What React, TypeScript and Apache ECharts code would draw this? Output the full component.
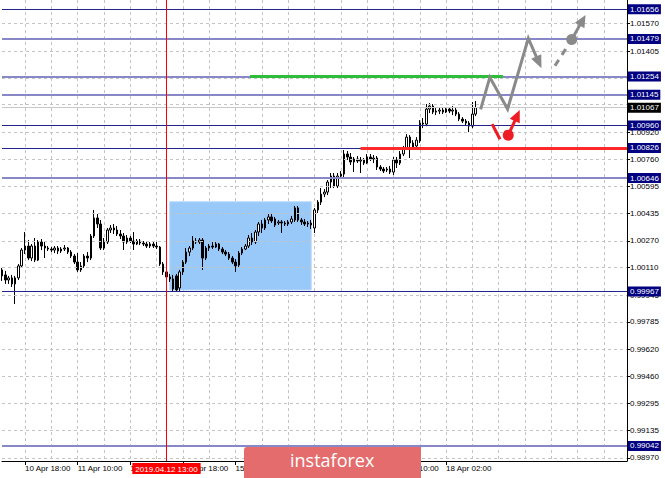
import React, { useEffect, useRef } from "react";
import * as echarts from "echarts";

// ---------- time axis (hourly bars, MT4 style) ----------
const dayHours = [
  { date: "2019.04.10", first: 11, last: 23 },
  { date: "2019.04.11", first: 0, last: 23 },
  { date: "2019.04.12", first: 0, last: 23 },
  { date: "2019.04.15", first: 0, last: 23 },
  { date: "2019.04.16", first: 0, last: 23 },
  { date: "2019.04.17", first: 0, last: 23 },
  { date: "2019.04.18", first: 0, last: 23 },
  { date: "2019.04.19", first: 0, last: 23 },
  { date: "2019.04.20", first: 0, last: 9 },
];
const monthNames = ["Jan", "Feb", "Mar", "Apr", "May", "Jun", "Jul", "Aug", "Sep", "Oct", "Nov", "Dec"];

const categories: string[] = [];
dayHours.forEach((d) => {
  for (let h = d.first; h <= d.last; h++) categories.push(`${d.date} ${String(h).padStart(2, "0")}:00`);
});

// ---------- candles: [open, close, low, high] ----------
const candles: number[][] = [
  [1.00096, 1.0006, 1.0003, 1.00108],
  [1.00066, 1.00036, 1.00012, 1.0009],
  [1.00036, 1.00048, 1.00012, 1.0006],
  [1.00048, 1.00012, 0.99994, 1.00066],
  [1.00012, 1.00048, 0.99892, 1.0006],
  [1.00048, 1.0012, 1.00036, 1.00131],
  [1.0012, 1.00215, 1.00108, 1.00227],
  [1.00215, 1.00239, 1.00191, 1.00323],
  [1.00239, 1.00167, 1.00155, 1.00275],
  [1.00167, 1.00239, 1.00149, 1.00251],
  [1.00239, 1.00155, 1.00143, 1.00287],
  [1.00155, 1.00263, 1.00149, 1.00275],
  [1.00263, 1.00239, 1.00215, 1.00281],
  [1.00239, 1.00227, 1.00167, 1.00263],
  [1.00227, 1.00221, 1.00209, 1.00239],
  [1.00221, 1.00215, 1.00203, 1.00233],
  [1.00215, 1.00227, 1.00197, 1.00239],
  [1.00227, 1.00209, 1.00191, 1.00239],
  [1.00209, 1.00221, 1.00197, 1.00233],
  [1.00221, 1.00227, 1.00209, 1.00245],
  [1.00227, 1.00203, 1.00191, 1.00233],
  [1.00203, 1.00179, 1.00167, 1.00215],
  [1.00179, 1.00143, 1.00131, 1.00191],
  [1.00143, 1.00096, 1.00084, 1.00197],
  [1.00096, 1.0012, 1.00084, 1.00143],
  [1.0012, 1.00179, 1.00108, 1.00191],
  [1.00179, 1.00167, 1.00143, 1.00203],
  [1.00167, 1.00299, 1.00155, 1.00311],
  [1.00299, 1.00407, 1.00287, 1.00455],
  [1.00407, 1.00371, 1.00347, 1.00431],
  [1.00371, 1.00227, 1.00215, 1.00395],
  [1.00227, 1.00263, 1.00215, 1.00287],
  [1.00263, 1.00335, 1.00251, 1.00347],
  [1.00335, 1.00347, 1.00317, 1.00365],
  [1.00347, 1.00335, 1.00311, 1.00371],
  [1.00335, 1.00311, 1.00299, 1.00359],
  [1.00311, 1.00299, 1.00281, 1.00335],
  [1.00299, 1.00263, 1.00215, 1.00317],
  [1.00263, 1.00287, 1.00251, 1.00305],
  [1.00287, 1.00269, 1.00257, 1.00299],
  [1.00269, 1.00251, 1.00215, 1.00323],
  [1.00251, 1.00269, 1.00245, 1.00281],
  [1.00269, 1.00257, 1.00245, 1.00281],
  [1.00257, 1.00251, 1.00239, 1.00269],
  [1.00251, 1.00239, 1.00227, 1.00263],
  [1.00239, 1.00251, 1.00227, 1.00263],
  [1.00251, 1.00239, 1.00227, 1.00263],
  [1.00239, 1.00233, 1.00221, 1.00263],
  [1.00233, 1.00131, 1.0012, 1.00239],
  [1.00131, 1.00084, 1.00066, 1.00143],
  [1.00084, 1.00054, 1.00036, 1.00096],
  [1.00054, 1.00042, 1.00024, 1.00072],
  [1.00042, 0.99982, 0.99964, 1.00066],
  [1.0006, 0.99976, 0.99964, 1.00072],
  [0.99988, 1.00084, 0.99964, 1.00096],
  [1.00084, 1.00143, 1.00066, 1.00155],
  [1.00143, 1.00203, 1.00131, 1.00227],
  [1.00203, 1.00227, 1.00179, 1.00239],
  [1.00227, 1.00269, 1.00215, 1.00299],
  [1.00269, 1.00263, 1.00251, 1.00287],
  [1.00263, 1.00275, 1.00251, 1.00287],
  [1.00275, 1.00167, 1.00096, 1.00287],
  [1.00167, 1.00227, 1.00155, 1.00239],
  [1.00227, 1.00239, 1.00209, 1.00251],
  [1.00239, 1.00233, 1.00221, 1.00263],
  [1.00233, 1.00251, 1.00227, 1.00263],
  [1.00251, 1.00221, 1.00209, 1.00257],
  [1.00221, 1.00203, 1.00191, 1.00233],
  [1.00203, 1.00191, 1.00179, 1.00215],
  [1.00191, 1.00167, 1.00155, 1.00203],
  [1.00167, 1.00143, 1.00131, 1.00179],
  [1.00143, 1.0012, 1.00084, 1.00161],
  [1.00125, 1.00197, 1.00114, 1.00209],
  [1.00197, 1.00221, 1.00185, 1.00233],
  [1.00221, 1.00239, 1.00215, 1.00251],
  [1.00239, 1.00287, 1.00227, 1.00305],
  [1.00287, 1.00263, 1.00245, 1.00317],
  [1.00263, 1.00323, 1.00251, 1.00335],
  [1.00323, 1.00371, 1.00299, 1.00383],
  [1.00371, 1.00347, 1.00317, 1.00395],
  [1.00347, 1.00395, 1.00335, 1.00407],
  [1.00395, 1.00413, 1.00371, 1.00437],
  [1.00413, 1.00389, 1.00377, 1.00431],
  [1.00401, 1.00365, 1.00353, 1.00413],
  [1.00377, 1.00383, 1.00365, 1.00395],
  [1.00383, 1.00377, 1.00317, 1.00395],
  [1.00377, 1.00371, 1.00359, 1.00389],
  [1.00371, 1.00383, 1.00359, 1.00395],
  [1.00383, 1.00401, 1.00371, 1.00419],
  [1.00395, 1.00467, 1.00383, 1.00479],
  [1.00467, 1.00395, 1.00383, 1.00479],
  [1.00395, 1.00383, 1.00365, 1.00407],
  [1.00383, 1.00371, 1.00359, 1.00401],
  [1.00371, 1.00377, 1.00353, 1.00389],
  [1.00377, 1.00365, 1.00341, 1.00395],
  [1.00347, 1.00455, 1.00317, 1.00467],
  [1.00455, 1.00502, 1.00437, 1.00514],
  [1.00502, 1.0055, 1.00485, 1.00586],
  [1.0055, 1.00562, 1.00532, 1.0058],
  [1.00562, 1.00622, 1.00544, 1.00634],
  [1.00622, 1.00658, 1.00586, 1.00676],
  [1.00658, 1.00598, 1.00586, 1.00676],
  [1.00598, 1.00658, 1.00586, 1.00676],
  [1.00658, 1.0067, 1.00646, 1.00688],
  [1.0067, 1.0079, 1.00652, 1.00814],
  [1.0079, 1.00772, 1.00754, 1.00808],
  [1.00772, 1.00742, 1.00724, 1.00796],
  [1.00742, 1.0076, 1.00682, 1.00772],
  [1.0076, 1.00748, 1.00736, 1.00778],
  [1.00748, 1.00754, 1.00676, 1.00772],
  [1.00754, 1.00736, 1.00724, 1.00766],
  [1.00736, 1.00772, 1.0073, 1.0079],
  [1.00772, 1.0076, 1.00748, 1.0079],
  [1.0076, 1.00766, 1.00736, 1.00784],
  [1.00766, 1.00712, 1.00694, 1.00778],
  [1.00712, 1.007, 1.00688, 1.00724],
  [1.007, 1.00688, 1.00676, 1.00712],
  [1.00694, 1.007, 1.00682, 1.00712],
  [1.007, 1.00682, 1.0067, 1.00718],
  [1.00682, 1.00754, 1.00664, 1.00772],
  [1.00754, 1.00736, 1.00706, 1.00772],
  [1.00736, 1.0079, 1.00724, 1.00808],
  [1.0079, 1.00826, 1.00778, 1.00838],
  [1.00826, 1.00891, 1.00814, 1.00909],
  [1.00891, 1.00856, 1.00766, 1.00903],
  [1.00856, 1.00832, 1.0082, 1.00873],
  [1.00838, 1.00873, 1.00826, 1.00891],
  [1.00868, 1.00975, 1.00856, 1.00993],
  [1.00975, 1.00969, 1.00945, 1.01005],
  [1.00969, 1.01059, 1.00957, 1.01089],
  [1.01059, 1.01077, 1.01035, 1.01095],
  [1.01077, 1.01041, 1.01029, 1.01089],
  [1.01041, 1.01047, 1.01023, 1.01065],
  [1.01047, 1.01053, 1.01029, 1.01071],
  [1.01053, 1.01041, 1.01029, 1.01071],
  [1.01041, 1.01059, 1.01035, 1.01071],
  [1.01059, 1.01047, 1.01035, 1.01071],
  [1.01047, 1.01053, 1.01023, 1.01077],
  [1.01053, 1.01029, 1.01017, 1.01071],
  [1.01029, 1.00999, 1.00987, 1.01041],
  [1.00999, 1.00987, 1.00975, 1.01011],
  [1.00987, 1.00975, 1.00963, 1.00999],
  [1.00975, 1.00957, 1.00921, 1.00987],
  [1.00957, 1.01029, 1.00945, 1.01101],
  [1.01029, 1.01067, 1.01017, 1.01107],
];

// ---------- price scale ----------
const priceMin = 0.98952;
const priceMax = 1.01712;
const tickValues = [
  1.0157, 1.01405, 1.01245, 1.01085, 1.0092, 1.0076, 1.00595, 1.00435, 1.0027, 1.0011,
  0.99945, 0.99785, 0.9962, 0.9946, 0.99295, 0.99135, 0.9897,
];
const darkLevels = [1.01656, 1.0096, 1.00826, 0.99967];
const lightLevels = [1.01479, 1.01254, 1.01145, 1.00646, 0.99042];
const bidPrice = 1.01067;

// ---------- annotations (bar index, price) ----------
const markedBar = 50; // 2019.04.12 13:00
const zoneBars = [51, 94];
const zonePrices = [1.00504, 0.99976];
const greenLevel = { from: 75.4, to: 152.3, price: 1.01254 };
const redLevel = { from: 109, to: 190, price: 1.00826 };
const greyZigzag = [
  [145.5, 1.01057],
  [148.3, 1.01249],
  [153.7, 1.01059],
  [160.0, 1.01482],
  [164.0, 1.01303],
];
const greyDashed = [
  [168.1, 1.01318],
  [173.2, 1.01476],
];
const greyTip = [177.4, 1.01622];
const redSlash = [
  [149.0, 1.00969],
  [151.4, 1.00878],
];
const redDot = [153.9, 1.00903];
const redTip = [157.4, 1.01053];

// ---------- layout ----------
const GRID_LEFT = 2;
const GRID_RIGHT = 38;
const CHART_W = 665;
const BANNER = { x: 244, y: 447, w: 177, h: 31 };

const FONT = "Liberation Sans";
const GREY = "#8a8a8a";
const RED = "#ee1c25";

const barStep = (CHART_W - GRID_LEFT - GRID_RIGHT) / (categories.length - 1);
const LABEL_W = 46;
const hiddenByBanner = (i: number) => {
  const x = GRID_LEFT + i * barStep;
  return x >= BANNER.x && x + LABEL_W <= BANNER.x + BANNER.w;
};
const isTicked = (i: number) => i < candles.length && i >= 7 && (i - 7) % 16 === 0;
const isLabelled = (i: number) => isTicked(i) && !hiddenByBanner(i);
const isGrid = (i: number) => i >= 7 && (i - 7) % 8 === 0;
const fmtDate = (s: string) =>
  `${s.slice(8, 10)} ${monthNames[parseInt(s.slice(5, 7), 10) - 1]} ${s.slice(11)}`;

const allLevels = [...darkLevels, ...lightLevels, bidPrice];
const hiddenTick = (v: number) => allLevels.some((l) => Math.abs(l - v) < 0.0002);

function renderArrows(params: any, api: any) {
  const pt = (p: number[]) => api.coord(p) as number[];
  const children: any[] = [];
  const head = (a: number[], b: number[], color: string, len: number, half: number) => {
    const dx = b[0] - a[0];
    const dy = b[1] - a[1];
    const d = Math.hypot(dx, dy) || 1;
    const ux = dx / d;
    const uy = dy / d;
    const nx = -uy;
    const ny = ux;
    const bx = b[0] - ux * len;
    const by = b[1] - uy * len;
    children.push({
      type: "polygon",
      shape: { points: [[b[0], b[1]], [bx + nx * half, by + ny * half], [bx - nx * half, by - ny * half]] },
      style: { fill: color },
    });
    return [b[0] - ux * len * 0.8, b[1] - uy * len * 0.8];
  };
  const g = greyZigzag.map(pt);
  const gEnd = head(g[g.length - 2], g[g.length - 1], GREY, 13, 5.5);
  children.push({
    type: "polyline",
    shape: { points: [...g.slice(0, -1), gEnd] },
    style: { stroke: GREY, lineWidth: 3, fill: null },
  });
  const d0 = pt(greyDashed[0]);
  const d1 = pt(greyDashed[1]);
  children.push({
    type: "line",
    shape: { x1: d0[0], y1: d0[1], x2: d1[0], y2: d1[1] },
    style: { stroke: GREY, lineWidth: 3, lineDash: [7, 6] },
  });
  const gt = pt(greyTip);
  const gtEnd = head(d1, gt, GREY, 12, 5.5);
  children.push({
    type: "line",
    shape: { x1: d1[0], y1: d1[1], x2: gtEnd[0], y2: gtEnd[1] },
    style: { stroke: GREY, lineWidth: 3 },
  });
  children.push({ type: "circle", shape: { cx: d1[0], cy: d1[1], r: 5.5 }, style: { fill: GREY } });
  const r0 = pt(redSlash[0]);
  const r1 = pt(redSlash[1]);
  children.push({
    type: "line",
    shape: { x1: r0[0], y1: r0[1], x2: r1[0], y2: r1[1] },
    style: { stroke: RED, lineWidth: 3 },
  });
  const rd = pt(redDot);
  const rt = pt(redTip);
  const rtEnd = head(rd, rt, RED, 12, 5.5);
  children.push({
    type: "line",
    shape: { x1: rd[0], y1: rd[1], x2: rtEnd[0], y2: rtEnd[1] },
    style: { stroke: RED, lineWidth: 3 },
  });
  children.push({ type: "circle", shape: { cx: rd[0], cy: rd[1], r: 5.5 }, style: { fill: RED } });
  return { type: "group", children };
}

export default function App() {
  const ref = useRef<HTMLDivElement>(null);
  useEffect(() => {
    if (!ref.current) return;
    const chart = echarts.init(ref.current, undefined, { renderer: "svg" });
    const boxLabel = (bg: string) => ({
      show: true,
      position: "end",
      distance: 1,
      backgroundColor: bg,
      color: "#fff",
      padding: [1, 2, 0, 2],
      fontSize: 8,
      lineHeight: 9,
      fontFamily: FONT,
      formatter: (p: any) => Number(p.value).toFixed(5),
    });
    const option: any = {
      animation: false,
      backgroundColor: "#fff",
      grid: { left: GRID_LEFT, right: GRID_RIGHT, top: 0, bottom: 17, containLabel: false },
      xAxis: [
        {
          type: "category",
          data: categories,
          boundaryGap: false,
          axisLine: { show: true, onZero: false, lineStyle: { color: "#000", width: 1 } },
          axisTick: { show: true, interval: (i: number) => isTicked(i), length: 4, lineStyle: { color: "#000" } },
          axisLabel: {
            show: true,
            interval: (i: number) => isLabelled(i),
            formatter: (v: string) => fmtDate(v),
            align: "left",
            margin: 3,
            fontSize: 8,
            fontFamily: FONT,
            color: "#000",
            hideOverlap: false,
          },
          splitLine: { show: true, interval: (i: number) => isGrid(i), lineStyle: { color: "#c4c4c4", type: [3, 3], width: 1 } },
        },
        { type: "value", min: 0, max: categories.length - 1, show: false, axisLine: { onZero: false } },
      ],
      yAxis: {
        type: "value",
        position: "right",
        min: priceMin,
        max: priceMax,
        axisLine: { show: true, onZero: false, lineStyle: { color: "#000", width: 1 } },
        axisTick: { show: true, length: 3, customValues: tickValues, lineStyle: { color: "#000" } },
        axisLabel: { show: false },
        splitLine: { show: false },
      },
      series: [
        {
          name: "grid",
          type: "line",
          data: [],
          z: 1,
          silent: true,
          markLine: {
            silent: true,
            symbol: "none",
            precision: 5,
            animation: false,
            lineStyle: { color: "#c4c4c4", type: [3, 3], width: 1 },
            label: {
              position: "end",
              distance: 3,
              fontSize: 8,
              fontFamily: FONT,
              color: "#000",
              formatter: (p: any) => Number(p.value).toFixed(5),
            },
            data: tickValues.map((v, i) => ({
              yAxis: v,
              label: {
                show: !hiddenTick(v),
                padding: i === tickValues.length - 1 ? [17, 0, 0, 0] : 0,
              },
            })),
          },
        },
        {
          name: "zone",
          type: "line",
          xAxisIndex: 1,
          data: [],
          z: 2,
          silent: true,
          markArea: {
            silent: true,
            precision: 5,
            itemStyle: { color: "#99c9f8", borderColor: "#b6d8fa", borderWidth: 1 },
            data: [[{ coord: [zoneBars[0], zonePrices[0]] }, { coord: [zoneBars[1], zonePrices[1]] }]],
          },
        },
        {
          name: "EURUSD",
          type: "candlestick",
          data: candles,
          z: 4,
          barWidth: 2,
          silent: true,
          itemStyle: { color: "#fff", color0: "#000", borderColor: "#000", borderColor0: "#000", borderWidth: 1 },
        },
        {
          name: "levels",
          type: "line",
          data: [],
          z: 5,
          silent: true,
          markLine: {
            silent: true,
            symbol: "none",
            precision: 5,
            animation: false,
            data: [
              { yAxis: bidPrice, lineStyle: { color: "#c8c8c8", width: 1, type: "solid" }, label: boxLabel("#000") },
              ...lightLevels.map((v) => ({
                yAxis: v,
                lineStyle: { color: "#8888c8", width: 2, type: "solid" },
                label: boxLabel("#000080"),
              })),
              ...darkLevels.map((v) => ({
                yAxis: v,
                lineStyle: { color: "#24248f", width: 1, type: "solid" },
                label: boxLabel("#000080"),
              })),
            ],
          },
        },
        {
          name: "segments",
          type: "line",
          xAxisIndex: 1,
          data: [],
          z: 6,
          silent: true,
          markLine: {
            silent: true,
            symbol: "none",
            precision: 5,
            animation: false,
            label: { show: false },
            data: [
              [
                { coord: [greenLevel.from, greenLevel.price], lineStyle: { color: "#2ebd3a", width: 3, type: "solid" } },
                { coord: [greenLevel.to, greenLevel.price] },
              ],
              [
                { coord: [redLevel.from, redLevel.price], lineStyle: { color: "#ff2a2a", width: 3, type: "solid" } },
                { coord: [redLevel.to, redLevel.price] },
              ],
              {
                xAxis: markedBar,
                lineStyle: { color: "#ff0000", width: 1, type: "solid" },
                label: {
                  show: true,
                  position: "start",
                  distance: 2,
                  backgroundColor: "#ff0000",
                  color: "#fff",
                  padding: [2, 3, 1, 3],
                  fontSize: 8,
                  fontFamily: FONT,
                  formatter: () => categories[markedBar],
                },
              },
            ],
          },
        },
        {
          name: "forecast",
          type: "custom",
          xAxisIndex: 1,
          yAxisIndex: 0,
          z: 8,
          silent: true,
          clip: false,
          data: [[150, 1.01]],
          renderItem: renderArrows,
        },
      ],
      graphic: [
        {
          type: "rect",
          left: BANNER.x,
          top: BANNER.y,
          z: 100,
          shape: { width: BANNER.w, height: BANNER.h, r: [3, 0, 0, 0] },
          style: { fill: "#e46c6c" },
        },
        {
          type: "text",
          left: 290,
          top: 451,
          z: 101,
          style: { text: "instaforex", fill: "#fff", font: "18px 'Open Sans'" },
        },
      ],
    };
    chart.setOption(option);
    return () => chart.dispose();
  }, []);
  return (
    <div
      ref={ref}
      style={{ position: "fixed", left: 0, top: 0, width: 665, height: 478, background: "#fff" }}
    />
  );
}
